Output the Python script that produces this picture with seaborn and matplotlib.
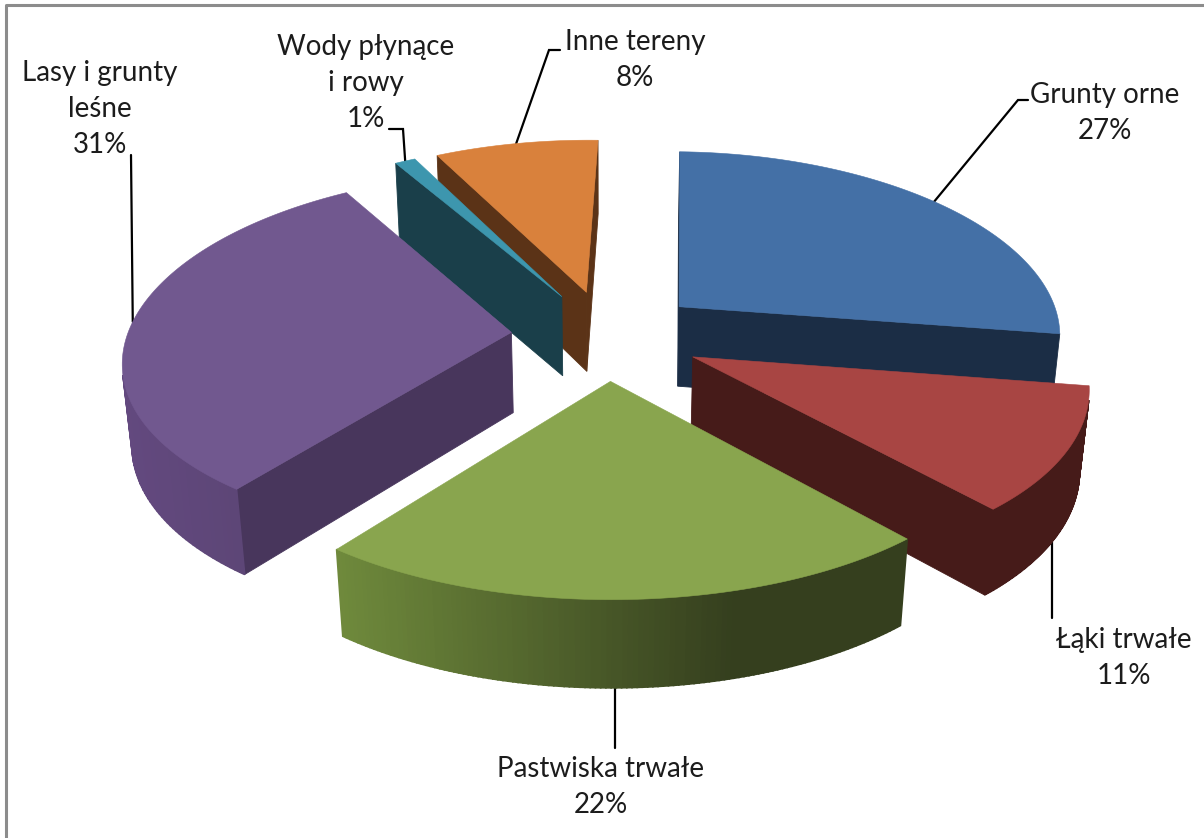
import numpy as np
import matplotlib
matplotlib.use('Agg')
import matplotlib.pyplot as plt
import seaborn as sns

# Land use shares, clockwise from 12 o'clock
labels = ['Grunty orne', 'Łąki trwałe', 'Pastwiska trwałe',
          'Lasy i grunty\nleśne', 'Wody płynące\ni rowy', 'Inne tereny']
shares = [27, 11, 22, 31, 1, 8]
top_colors = ['#4470a6', '#a84543', '#89a54e', '#71588f', '#3d96ae', '#d9813c']
cut_colors = ['#1b2d45', '#461b19', '#353f1e', '#48365c', '#1a3f4a', '#5b3317']
# outer wall, left end and right end of the gradient
wall_left = ['#1b2d45', '#461b19', '#6f8a3c', '#63497f', '#1a3f4a', '#5b3317']
wall_right = ['#1b2d45', '#461b19', '#353f1e', '#5b4574', '#1a3f4a', '#5b3317']

sns.set_theme(style='white')
plt.rcParams['font.family'] = ['Lato', 'DejaVu Sans']

# projection of the tilted pie into picture pixels
CX, CY = 607, 335
AX, AY, AZ = 384, 180, 82
KX, KY, KZ = 0.14, 0.12, 0.02
EXPLODE = 0.25
START = 1.6


def project(x, y, z):
    # x right, y towards the viewer, z up (0 top, -1 bottom)
    sx = CX + AX * x / (1 - KX * y - KZ * z)
    sy = CY + (AY * y - AZ * z) / (1 - KY * y - KZ * z)
    return np.column_stack([sx, sy])


def slice_xy(ang, mid, r=1.0):
    a = np.radians(ang)
    m = np.radians(mid)
    x = EXPLODE * np.sin(m) + r * np.sin(a)
    y = -EXPLODE * np.cos(m) - r * np.cos(a)
    return x, y


def signed_area(p):
    return 0.5 * np.sum(p[:, 0] * np.roll(p[:, 1], -1) - np.roll(p[:, 0], -1) * p[:, 1])


fig = plt.figure(figsize=(12.04, 8.38), dpi=100)
ax = fig.add_axes([0, 0, 1, 1])
ax.set_xlim(0, 1204)
ax.set_ylim(838, 0)
ax.axis('off')

ends = START + np.cumsum(shares) * 3.6
starts = ends - np.array(shares) * 3.6
mids = (starts + ends) / 2

# chart frame, only top and left are inside the picture
ax.plot([6, 6, 1210], [845, 5, 5], color='#8c8c8c', lw=2.2)


def draw_slice(i):
    angs = np.linspace(starts[i], ends[i], 121)
    x, y = slice_xy(angs, mids[i])
    top = project(x, y, np.zeros_like(x))
    bot = project(x, y, -np.ones_like(x))
    ax_, ay_ = slice_xy(mids[i], mids[i], r=0.0)
    apex_top = project(np.array([ax_]), np.array([ay_]), np.array([0.0]))
    apex_bot = project(np.array([ax_]), np.array([ay_]), np.array([-1.0]))

    # the two cut faces, only where they turn to the viewer
    faces = [np.vstack([apex_top, top[0], bot[0], apex_bot]),
             np.vstack([top[-1], apex_top, apex_bot, bot[-1]])]
    for f in faces:
        if signed_area(f) < 0:
            ax.fill(f[:, 0], f[:, 1], color=cut_colors[i], lw=0.6, zorder=i_order[i] + 0.1)

    # outer wall, strip by strip for the gradient
    ramp = sns.blend_palette([wall_left[i], wall_right[i]], 101)
    xmin, xmax = top[:, 0].min(), top[:, 0].max()
    for j in range(len(angs) - 1):
        q = np.vstack([top[j], top[j + 1], bot[j + 1], bot[j]])
        if signed_area(q) < 0:
            t = min((q[:, 0].mean() - xmin) / max(xmax - xmin, 1) * 1.45, 1)
            ax.fill(q[:, 0], q[:, 1], color=ramp[int(t * 100)], lw=1.2, zorder=i_order[i] + 0.2)

    poly = np.vstack([apex_top, top])
    ax.fill(poly[:, 0], poly[:, 1], color=top_colors[i], lw=0.4, zorder=i_order[i] + 0.3)


# painter's order, back slices first
i_order = {0: 1, 5: 2, 4: 3, 3: 4, 1: 5, 2: 6}
for i in i_order:
    draw_slice(i)

# labels and leader lines
label_xy = [(1105, 113), (1124, 658), (601, 787), (100, 109), (366, 83), (635, 60)]
elbows = [[(1028, 100), (1018, 100)], [(None, 618)], [(None, 748)],
          [(131, 155)], [(389, 129), (403, 129)], [(560, 50), (549, 50)]]
anchor_z = [0.0, -1.0, -1.0, 0.0, 0.0, 0.0]
anchor_shift = [-1.0, 2.0, 1.5, 0.0, 0.0, 0.0]

for i, name in enumerate(labels):
    ax.text(label_xy[i][0], label_xy[i][1], f'{name}\n{shares[i]}%', ha='center', va='center',
            fontsize=20, color='#1c1c1c', linespacing=1.47, zorder=20)
    ax_, ay_ = slice_xy(mids[i] + anchor_shift[i], mids[i])
    tip = project(np.array([ax_]), np.array([ay_]), np.array([anchor_z[i]]))[0]
    # None means the leader drops straight down from the slice
    pts = np.array([(tip[0] if ex is None else ex, ey) for ex, ey in elbows[i]] + [tuple(tip)])
    ax.plot(pts[:, 0], pts[:, 1], color='black', lw=1.6, zorder=0.5, solid_joinstyle='miter')

fig.savefig('out.png', dpi=100)
